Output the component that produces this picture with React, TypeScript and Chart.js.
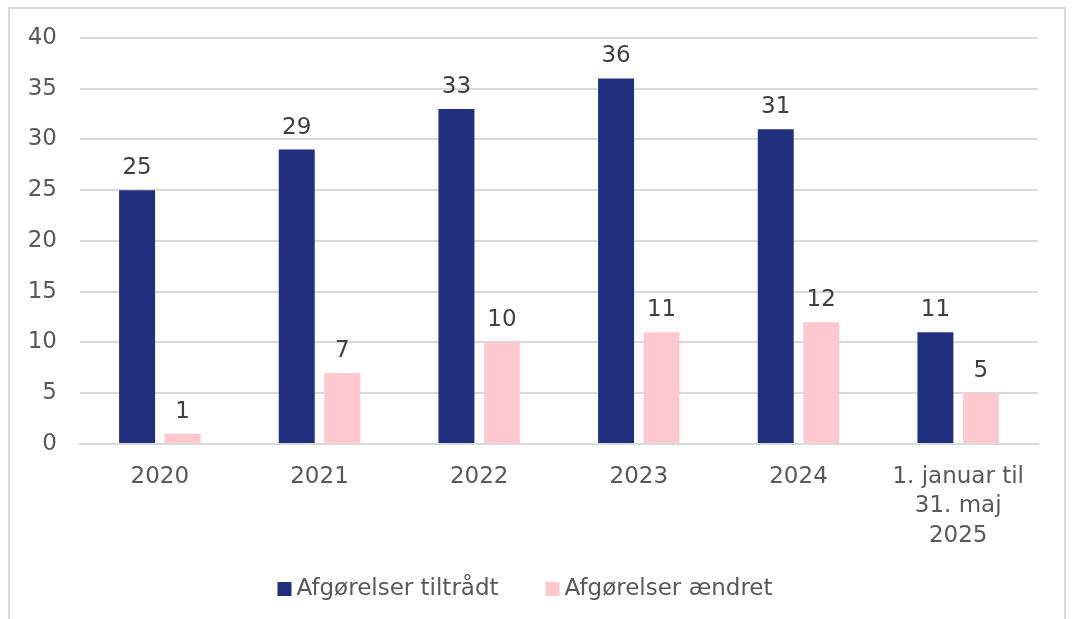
import React, { useEffect, useRef } from "react";
import { Chart, registerables } from "chart.js";

Chart.register(...registerables);

const categories: (string | string[])[] = ["2020", "2021", "2022", "2023", "2024", ["1. januar til", "31. maj", "2025"]];
const tiltraadt = [25, 29, 33, 36, 31, 11];
const aendret = [1, 7, 10, 11, 12, 5];
const seriesNames = ["Afgørelser tiltrådt", "Afgørelser ændret"];
const seriesColors = ["#212f7f", "#ffc7ce"];
const yTicks = [0, 5, 10, 15, 20, 25, 30, 35, 40];

const FONT = "'DejaVu Sans', Verdana, sans-serif";
const FS = 23;
const SHIFT = 8;

const valueLabels = {
  id: "valueLabels",
  afterDatasetsDraw(chart: any) {
    const ctx = chart.ctx;
    ctx.save();
    ctx.font = `${FS}px ${FONT}`;
    ctx.fillStyle = "#404040";
    ctx.textAlign = "center";
    ctx.textBaseline = "alphabetic";
    chart.data.datasets.forEach((ds: any, i: number) => {
      const meta = chart.getDatasetMeta(i);
      meta.data.forEach((bar: any, j: number) => {
        ctx.fillText(String(ds.data[j]), bar.x, bar.y - 16);
      });
    });
    ctx.restore();
  },
};

const customLegend = {
  id: "customLegend",
  afterDraw(chart: any) {
    const ctx = chart.ctx;
    ctx.save();
    ctx.font = `${FS}px ${FONT}`;
    ctx.textBaseline = "middle";
    ctx.textAlign = "left";
    const box = 14, gapBox = 5, gapItem = 47;
    const widths = chart.data.datasets.map((d: any) => ctx.measureText(d.label).width);
    const total = widths.reduce((a: number, w: number) => a + box + gapBox + w, 0) + gapItem * (widths.length - 1);
    let x = 515 - total / 2;
    const yc = 580 + SHIFT;
    chart.data.datasets.forEach((d: any, i: number) => {
      ctx.fillStyle = d.backgroundColor;
      ctx.fillRect(x, yc - box / 2, box, box);
      ctx.fillStyle = "#595959";
      ctx.fillText(d.label, x + box + gapBox, yc);
      x += box + gapBox + widths[i] + gapItem;
    });
    ctx.restore();
  },
};

export default function App() {
  const ref = useRef<HTMLCanvasElement>(null);
  useEffect(() => {
    document.body.style.margin = "0";
    const chart = new Chart(ref.current!, {
      type: "bar",
      data: {
        labels: categories,
        datasets: [
          { label: seriesNames[0], data: tiltraadt, backgroundColor: seriesColors[0], barPercentage: 0.79, categoryPercentage: 0.57 },
          { label: seriesNames[1], data: aendret, backgroundColor: seriesColors[1], barPercentage: 0.79, categoryPercentage: 0.57 },
        ],
      },
      options: {
        animation: false,
        responsive: false,
        layout: { padding: { top: 14, right: 26, left: 0, bottom: 77 } },
        plugins: {
          legend: { display: false },
          tooltip: { enabled: false },
        },
        scales: {
          x: {
            grid: { display: false, drawTicks: false },
            border: { display: true, color: "#d9d9d9", width: 2 },
            ticks: { font: { family: FONT, size: FS, lineHeight: 1.28 }, color: "#595959", padding: 18, maxRotation: 0, autoSkip: false },
            afterFit: (s: any) => { s.height = 98; },
          },
          y: {
            min: 0,
            max: 40,
            afterBuildTicks: (s: any) => { s.ticks = yTicks.map((v) => ({ value: v })); },
            grid: { color: "#d9d9d9", lineWidth: 2, drawTicks: false },
            border: { display: false },
            ticks: { font: { family: FONT, size: FS }, color: "#595959", padding: 23 },
            afterFit: (s: any) => { s.width = 70; },
          },
        },
      },
      plugins: [valueLabels, customLegend],
    });
    return () => chart.destroy();
  }, []);
  return (
    <div style={{ position: "absolute", left: 8, top: 7, width: 1054, height: 620, border: "2px solid #d9d9d9", background: "#fff", overflow: "hidden" }}>
      <canvas ref={ref} width={1054} height={610 + SHIFT} style={{ display: "block", position: "absolute", left: 0, top: -SHIFT }} />
    </div>
  );
}
